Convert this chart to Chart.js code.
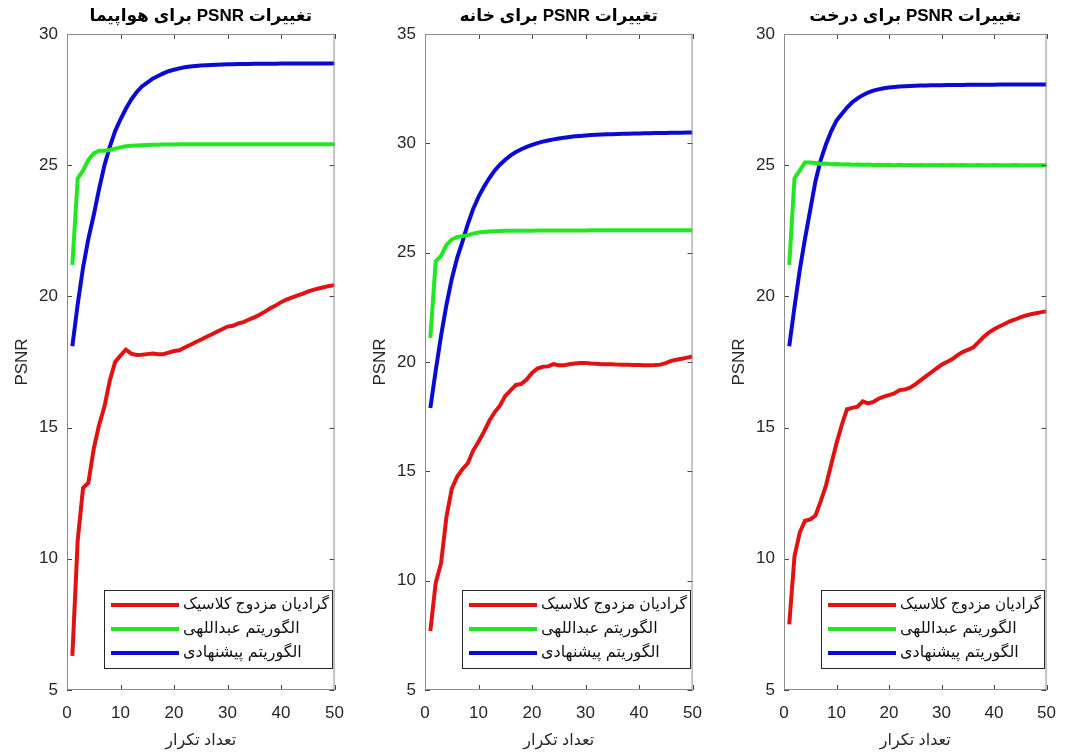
<!DOCTYPE html>
<html>
<head>
<meta charset="utf-8">
<script src="https://cdn.jsdelivr.net/npm/chart.js@4.4.1/dist/chart.umd.min.js"></script>
<style>
  html, body { margin: 0; padding: 0; background: #fff; overflow: hidden; }
  .panel { position: absolute; top: 0; }
</style>
</head>
<body>
<div class="panel" style="left:0px"><canvas id="c1" width="357" height="753" dir="rtl"></canvas></div>
<div class="panel" style="left:358px"><canvas id="c2" width="357" height="753" dir="rtl"></canvas></div>
<div class="panel" style="left:717px"><canvas id="c3" width="352" height="753" dir="rtl"></canvas></div>
<script>
// Data
const iterations = [1, 2, 3, 4, 5, 6, 7, 8, 9, 10, 11, 12, 13, 14, 15, 16, 17, 18, 19, 20,
    21, 22, 23, 24, 25, 26, 27, 28, 29, 30, 31, 32, 33, 34, 35, 36, 37, 38, 39, 40,
    41, 42, 43, 44, 45, 46, 47, 48, 49, 50];

const seriesNames = ['گرادیان مزدوج کلاسیک', 'الگوریتم عبداللهی', 'الگوریتم پیشنهادی'];
const titles = ['تغییرات PSNR برای هواپیما', 'تغییرات PSNR برای خانه', 'تغییرات PSNR برای درخت'];
const xTicks = [0, 10, 20, 30, 40, 50];

// airplane
const airplaneClassic = [6.3, 10.7, 12.7, 12.9, 14.2, 15.1, 15.8, 16.8, 17.5, 17.75,
    17.97, 17.82, 17.77, 17.78, 17.8, 17.82, 17.8, 17.8, 17.86, 17.92,
    17.95, 18.05, 18.15, 18.25, 18.35, 18.45, 18.55, 18.65, 18.75, 18.85,
    18.88, 18.97, 19.02, 19.12, 19.2, 19.3, 19.42, 19.55, 19.65, 19.78,
    19.88, 19.95, 20.03, 20.1, 20.18, 20.25, 20.3, 20.35, 20.4, 20.43];
const airplaneAbdollahi = [21.2, 24.5, 24.8, 25.2, 25.45, 25.55, 25.55, 25.58, 25.63, 25.68,
    25.72, 25.74, 25.75, 25.76, 25.77, 25.78, 25.78, 25.79, 25.79, 25.79,
    25.8, 25.8, 25.8, 25.8, 25.8, 25.8, 25.8, 25.8, 25.8, 25.8,
    25.8, 25.8, 25.8, 25.8, 25.8, 25.8, 25.8, 25.8, 25.8, 25.8,
    25.8, 25.8, 25.8, 25.8, 25.8, 25.8, 25.8, 25.8, 25.8, 25.8];
const airplaneProposed = [18.1, 19.7, 21.1, 22.2, 23.1, 24.1, 25.0, 25.7, 26.3, 26.75,
    27.15, 27.5, 27.78, 28.0, 28.15, 28.3, 28.4, 28.5, 28.58, 28.64,
    28.69, 28.73, 28.76, 28.78, 28.8, 28.81, 28.82, 28.83, 28.84, 28.85,
    28.85, 28.86, 28.86, 28.86, 28.87, 28.87, 28.87, 28.87, 28.87, 28.88,
    28.88, 28.88, 28.88, 28.88, 28.88, 28.88, 28.88, 28.88, 28.88, 28.88];

// house
const houseClassic = [7.7, 9.9, 10.8, 12.9, 14.2, 14.75, 15.1, 15.37, 15.95, 16.35,
    16.8, 17.3, 17.7, 18.0, 18.45, 18.7, 18.95, 19.0, 19.2, 19.5,
    19.7, 19.78, 19.8, 19.9, 19.85, 19.85, 19.9, 19.93, 19.95, 19.95,
    19.93, 19.92, 19.9, 19.9, 19.9, 19.88, 19.87, 19.87, 19.86, 19.86,
    19.85, 19.85, 19.86, 19.88, 19.95, 20.05, 20.1, 20.15, 20.2, 20.25];
const houseAbdollahi = [21.1, 24.6, 24.85, 25.35, 25.6, 25.72, 25.75, 25.8, 25.87, 25.92,
    25.95, 25.97, 25.98, 25.99, 26.0, 26.0, 26.0, 26.0, 26.0, 26.0,
    26.01, 26.01, 26.01, 26.01, 26.01, 26.01, 26.01, 26.01, 26.01, 26.01,
    26.02, 26.02, 26.02, 26.02, 26.02, 26.02, 26.02, 26.02, 26.02, 26.02,
    26.02, 26.02, 26.02, 26.02, 26.02, 26.02, 26.02, 26.02, 26.02, 26.02];
const houseProposed = [17.9, 19.6, 21.2, 22.6, 23.8, 24.75, 25.5, 26.3, 27.0, 27.55,
    28.0, 28.4, 28.75, 29.02, 29.25, 29.45, 29.6, 29.73, 29.84, 29.93,
    30.01, 30.08, 30.13, 30.18, 30.22, 30.26, 30.29, 30.32, 30.34, 30.36,
    30.38, 30.39, 30.4, 30.41, 30.42, 30.43, 30.44, 30.44, 30.45, 30.45,
    30.46, 30.46, 30.47, 30.47, 30.47, 30.48, 30.48, 30.48, 30.49, 30.49];

// tree
const treeClassic = [7.5, 10.1, 11.0, 11.45, 11.5, 11.65, 12.2, 12.8, 13.6, 14.4,
    15.1, 15.7, 15.75, 15.8, 16.0, 15.92, 15.98, 16.1, 16.18, 16.24,
    16.3, 16.43, 16.45, 16.52, 16.65, 16.8, 16.95, 17.1, 17.25, 17.4,
    17.5, 17.6, 17.75, 17.88, 17.96, 18.05, 18.25, 18.45, 18.62, 18.75,
    18.85, 18.95, 19.05, 19.12, 19.2, 19.27, 19.32, 19.36, 19.4, 19.43];
const treeAbdollahi = [21.2, 24.5, 24.8, 25.1, 25.1, 25.08, 25.05, 25.06, 25.04, 25.05,
    25.03, 25.04, 25.02, 25.03, 25.02, 25.03, 25.01, 25.02, 25.01, 25.02,
    25.0, 25.02, 25.0, 25.01, 25.0, 25.01, 25.0, 25.01, 25.0, 25.01,
    25.0, 25.01, 25.0, 25.01, 25.0, 25.0, 25.01, 25.0, 25.0, 25.01,
    25.0, 25.0, 25.0, 25.01, 25.0, 25.0, 25.0, 25.0, 25.0, 25.0];
const treeProposed = [18.1, 19.6, 21.0, 22.2, 23.3, 24.4, 25.2, 25.8, 26.3, 26.7,
    26.95, 27.2, 27.4, 27.55, 27.67, 27.77, 27.84, 27.89, 27.93, 27.96,
    27.98, 28.0, 28.01, 28.02, 28.03, 28.04, 28.04, 28.05, 28.05, 28.05,
    28.06, 28.06, 28.06, 28.06, 28.07, 28.07, 28.07, 28.07, 28.07, 28.07,
    28.08, 28.08, 28.08, 28.08, 28.08, 28.08, 28.08, 28.08, 28.08, 28.08];

const colors = ['#e01212', '#22e622', '#0a0ad2'];
const FONT = "'Liberation Sans', Arial, 'DejaVu Sans', sans-serif";

// frame box and inward ticks (MATLAB style)
const frameTicks = {
    id: 'frameTicks',
    afterDatasetsDraw(chart) {
        const { ctx, chartArea: a, scales: { x, y } } = chart;
        ctx.save();
        ctx.lineWidth = 1;
        ctx.strokeStyle = '#444';
        ctx.beginPath();
        x.ticks.forEach(t => {
            const px = Math.round(x.getPixelForValue(t.value)) + 0.5;
            ctx.moveTo(px, a.bottom); ctx.lineTo(px, a.bottom - 5);
            ctx.moveTo(px, a.top); ctx.lineTo(px, a.top + 5);
        });
        y.ticks.forEach(t => {
            const py = Math.round(y.getPixelForValue(t.value)) + 0.5;
            ctx.moveTo(a.left, py); ctx.lineTo(a.left + 5, py);
            ctx.moveTo(a.right, py); ctx.lineTo(a.right - 5, py);
        });
        ctx.stroke();
        ctx.strokeStyle = '#8c8c8c';
        ctx.strokeRect(a.left + 0.5, a.top + 0.5, a.width - 1, a.height - 1);
        ctx.restore();
    }
};

// legend box inside the plot, bottom right
const boxLegend = {
    id: 'boxLegend',
    afterDraw(chart) {
        const { ctx, chartArea: a } = chart;
        const left = Math.round(a.left + 37), right = Math.round(a.right - 3);
        const top = Math.round(a.bottom - 100), bottom = Math.round(a.bottom - 22);
        ctx.save();
        ctx.fillStyle = '#fff';
        ctx.fillRect(left, top, right - left, bottom - top);
        ctx.strokeStyle = '#262626';
        ctx.lineWidth = 1;
        ctx.strokeRect(left + 0.5, top + 0.5, right - left, bottom - top);
        chart.data.datasets.forEach((ds, i) => {
            const yy = top + 15 + i * 24;
            ctx.strokeStyle = ds.borderColor;
            ctx.lineWidth = 4;
            ctx.beginPath();
            ctx.moveTo(left + 7, yy);
            ctx.lineTo(left + 75, yy);
            ctx.stroke();
            ctx.fillStyle = '#111';
            ctx.font = '16px ' + FONT;
            ctx.textAlign = 'left';
            ctx.textBaseline = 'middle';
            ctx.fillText(ds.label, left + 79, yy, right - left - 82);
        });
        ctx.restore();
    }
};

function makeChart(id, title, series, yMax, canvasWidth, plotWidth) {
    const ctx = document.getElementById(id).getContext('2d');
    return new Chart(ctx, {
        type: 'line',
        data: {
            datasets: series.map((values, i) => ({
                label: seriesNames[i],
                data: iterations.map((it, k) => ({ x: it, y: values[k] })),
                borderColor: colors[i],
                backgroundColor: colors[i],
                borderWidth: 4,
                pointRadius: 0,
                tension: 0,
                fill: false
            }))
        },
        options: {
            responsive: false,
            animation: false,
            layout: { padding: { left: 0, top: 0, bottom: 0, right: canvasWidth - 67 - plotWidth } },
            plugins: {
                legend: { display: false },
                tooltip: { enabled: false },
                title: {
                    display: true,
                    fullSize: false,
                    text: title,
                    color: '#000',
                    font: { family: FONT, size: 17, weight: 'bold', lineHeight: 1.2 },
                    padding: { top: 6, bottom: 7.6 }
                }
            },
            scales: {
                x: {
                    type: 'linear',
                    min: 0,
                    max: 50,
                    afterBuildTicks: (scale) => { scale.ticks = xTicks.map(v => ({ value: v })); },
                    grid: { display: false, drawTicks: false },
                    border: { display: false },
                    ticks: { color: '#262626', font: { family: FONT, size: 17 }, padding: 13, maxRotation: 0 },
                    title: {
                        display: true,
                        text: 'تعداد تکرار',
                        color: '#262626',
                        font: { family: FONT, size: 16 },
                        padding: { top: 0, bottom: 3 }
                    },
                    afterFit: (scale) => { scale.height = 63; }
                },
                y: {
                    min: 5,
                    max: yMax,
                    ticks: { stepSize: 5, color: '#262626', font: { family: FONT, size: 17 }, padding: 9 },
                    grid: { display: false, drawTicks: false },
                    border: { display: false },
                    title: {
                        display: true,
                        text: 'PSNR',
                        color: '#262626',
                        font: { family: FONT, size: 17 },
                        padding: { top: 12, bottom: 0 }
                    },
                    afterFit: (scale) => { scale.width = 67; }
                }
            }
        },
        plugins: [frameTicks, boxLegend]
    });
}

makeChart('c1', titles[0], [airplaneClassic, airplaneAbdollahi, airplaneProposed], 30, 357, 271);
makeChart('c2', titles[1], [houseClassic, houseAbdollahi, houseProposed], 35, 357, 272);
makeChart('c3', titles[2], [treeClassic, treeAbdollahi, treeProposed], 30, 352, 272);
</script>
</body>
</html>
